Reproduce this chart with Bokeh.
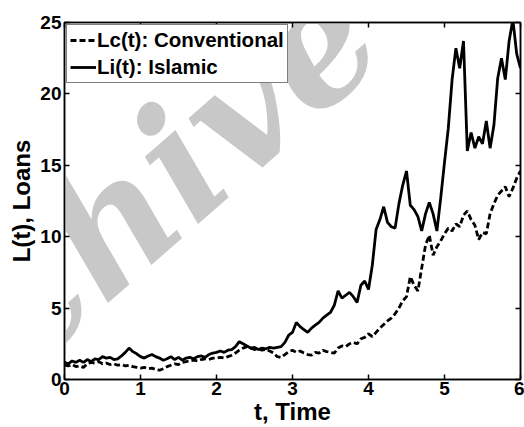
from bokeh.plotting import figure
from bokeh.models import LinearAxis, Range1d, Legend, LegendItem, Label, FixedTicker
from bokeh.embed import file_html
from bokeh.resources import INLINE

# Time grid (years) and simulated loan paths
t = [round(0.05 * i, 2) for i in range(121)]

loans_islamic = [
    1.2, 1.1, 1.3, 1.2, 1.35, 1.2, 1.4, 1.25, 1.45, 1.4,
    1.6, 1.5, 1.55, 1.4, 1.45, 1.65, 1.9, 2.2, 1.95, 1.8,
    1.6, 1.5, 1.65, 1.75, 1.6, 1.5, 1.35, 1.45, 1.6, 1.4,
    1.55, 1.35, 1.5, 1.55, 1.45, 1.6, 1.65, 1.55, 1.75, 1.85,
    1.9, 2.0, 1.9, 2.05, 2.1, 2.3, 2.65, 2.5, 2.35, 2.2,
    2.25, 2.1, 2.2, 2.15, 2.25, 2.2, 2.25, 2.3, 2.6, 3.1,
    3.3, 4.0, 3.7, 3.5, 3.3, 3.6, 3.8, 4.0, 4.3, 4.5,
    4.7, 5.2, 6.2, 5.7, 5.9, 6.1, 5.8, 5.4, 6.6, 6.9,
    6.3, 8.0, 10.5, 11.2, 12.1, 11.0, 10.7, 10.6, 12.3, 13.6,
    14.6, 12.2, 11.9, 11.4, 10.4, 11.6, 12.4, 11.6, 10.4, 12.7,
    15.2, 17.6, 21.0, 23.2, 21.8, 23.7, 16.0, 17.3, 16.2, 17.0,
    16.5, 18.1, 16.2, 17.8, 21.1, 22.5, 21.0, 23.7, 25.2, 22.8,
    21.8,
]

loans_conventional = [
    1.0, 0.95, 1.05, 0.9, 0.95, 0.85, 1.1, 1.2, 1.15, 1.25,
    1.1, 1.15, 1.05, 1.1, 1.0, 1.05, 0.95, 1.0, 0.9, 0.85,
    0.8, 0.85, 0.75, 0.8, 0.7, 0.65, 0.75, 0.9, 1.0, 1.1,
    1.05, 1.2, 1.25, 1.3, 1.35, 1.3, 1.4, 1.45, 1.4, 1.5,
    1.5, 1.55, 1.5, 1.6, 1.7, 1.85, 2.05, 2.2, 2.3, 2.2,
    2.1, 2.15, 2.05, 2.1, 2.0, 1.85, 1.6, 1.55, 1.75, 1.95,
    2.05, 1.9, 2.0, 1.85, 1.75, 1.7, 1.9, 1.85, 2.05, 1.95,
    1.9, 1.85, 2.2, 2.35, 2.3, 2.5, 2.6, 2.5, 2.85, 2.95,
    3.2, 3.0, 3.3, 3.6, 3.85, 4.1, 4.3, 4.6, 5.0, 5.5,
    5.8, 7.2, 6.6, 6.2, 7.8, 9.4, 10.1, 8.7, 9.3, 9.7,
    10.2, 10.6, 10.4, 10.9, 10.7, 11.5, 11.8, 11.2, 10.8, 9.8,
    10.3, 10.2, 11.6, 12.3, 12.9, 13.2, 13.5, 12.8, 13.4, 14.1,
    14.6,
]

x_ticks = [0, 1, 2, 3, 4, 5, 6]
y_ticks = [0, 5, 10, 15, 20, 25]

FONT = "Liberation Sans"

p = figure(
    width=524, height=427, output_backend="svg", toolbar_location=None,
    x_range=Range1d(0, 6), y_range=Range1d(0, 25),
    min_border_left=64, min_border_right=4, min_border_top=22, min_border_bottom=47,
)
p.background_fill_color = "white"
p.border_fill_color = "white"
p.outline_line_color = "black"
p.outline_line_width = 1.5
p.xgrid.visible = False
p.ygrid.visible = False

# light background watermark
p.add_layout(Label(
    x=-0.14, y=-1.6, text="chive of SID", angle=0.72,
    text_font="DejaVu Serif", text_font_style="bold italic",
    text_font_size="165px", text_color="#c8c8c8", level="underlay",
))

r_conv = p.line(t, loans_conventional, line_color="black", line_width=2.8, line_dash="6 3")
r_isl = p.line(t, loans_islamic, line_color="black", line_width=2.8)

def style_axis(ax, ticks, show_labels=True):
    ax.ticker = FixedTicker(ticks=ticks)
    ax.axis_line_color = "black"
    ax.axis_line_width = 1.5
    ax.major_tick_line_color = "black"
    ax.major_tick_line_width = 1.5
    ax.major_tick_in = 5
    ax.major_tick_out = 0
    ax.minor_tick_line_color = None
    ax.major_label_text_font = FONT
    ax.major_label_text_font_style = "bold"
    ax.major_label_text_color = "black"
    if show_labels:
        ax.major_label_text_font_size = "19px"
        ax.major_label_standoff = 4
    else:
        # tick marks only on the top and right edges of the box
        ax.major_label_text_font_size = "0px"
        ax.major_label_standoff = 0

style_axis(p.xaxis[0], x_ticks)
style_axis(p.yaxis[0], y_ticks)
p.xaxis[0].major_label_standoff = 2
p.yaxis[0].major_label_standoff = 3
for ax in (p.xaxis[0], p.yaxis[0]):
    ax.axis_label_text_font = FONT
    ax.axis_label_text_font_style = "bold"
    ax.axis_label_text_font_size = "24px"
    ax.axis_label_text_color = "black"
p.xaxis[0].axis_label = "t, Time"
p.xaxis[0].axis_label_standoff = 0
p.yaxis[0].axis_label = "L(t), Loans"
p.yaxis[0].axis_label_standoff = 2

top_ax = LinearAxis()
right_ax = LinearAxis()
style_axis(top_ax, x_ticks, show_labels=False)
style_axis(right_ax, y_ticks, show_labels=False)
p.add_layout(top_ax, "above")
p.add_layout(right_ax, "right")

legend = Legend(items=[
    LegendItem(label="Lc(t): Conventional", renderers=[r_conv]),
    LegendItem(label="Li(t): Islamic", renderers=[r_isl]),
], location="top_left")
legend.label_text_font = FONT
legend.label_text_font_style = "bold"
legend.label_text_font_size = "20.5px"
legend.label_text_color = "black"
legend.glyph_width = 26
legend.glyph_height = 20
legend.label_standoff = 1
legend.padding = 3
legend.spacing = 3
legend.margin = 2
legend.border_line_color = "black"
legend.border_line_width = 1.5
legend.background_fill_color = "white"
legend.background_fill_alpha = 1.0
p.add_layout(legend)

open("out.html", "w").write(file_html(p, INLINE))
